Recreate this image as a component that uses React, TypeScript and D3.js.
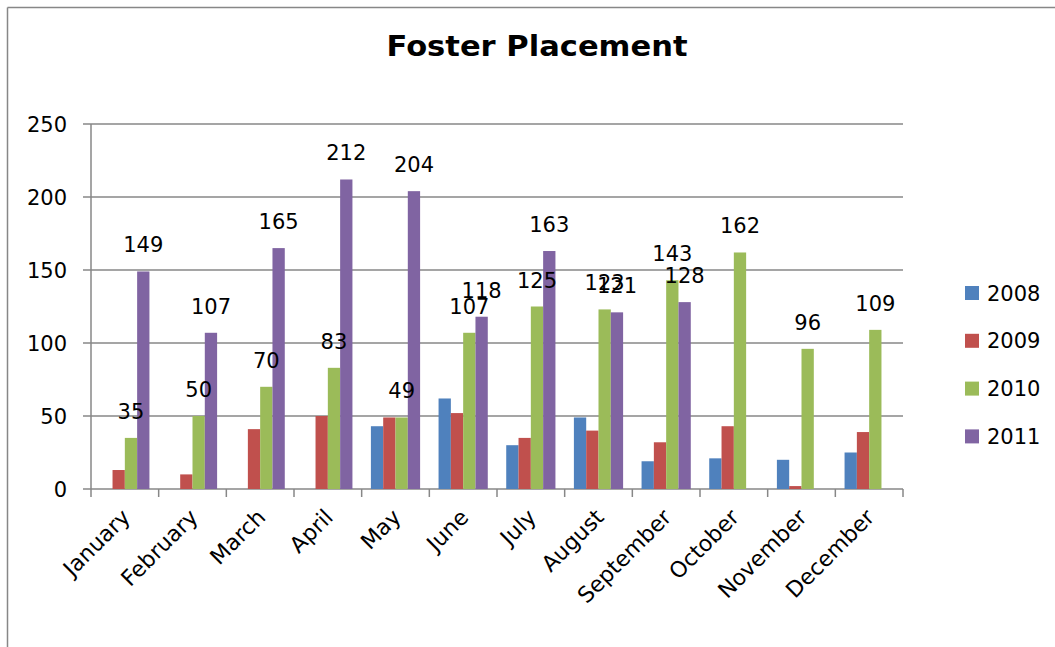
import React, { useRef, useEffect } from 'react';
import * as d3 from 'd3';

const months = [
  'January', 'February', 'March', 'April', 'May', 'June',
  'July', 'August', 'September', 'October', 'November', 'December',
];
const seriesNames = ['2008', '2009', '2010', '2011'];
const values2008 = [null, null, null, null, 43, 62, 30, 49, 19, 21, 20, 25];
const values2009 = [13, 10, 41, 50, 49, 52, 35, 40, 32, 43, 2, 39];
const values2010 = [35, 50, 70, 83, 49, 107, 125, 123, 143, 162, 96, 109];
const values2011 = [149, 107, 165, 212, 204, 118, 163, 121, 128, null, null, null];
const yTicks = [0, 50, 100, 150, 200, 250];
const labelledSeries = ['2010', '2011'];

const colors = ['#4F81BD', '#C0504D', '#9BBB59', '#8064A2'];

const App: React.FC = () => {
  const svgRef = useRef<SVGSVGElement>(null);

  useEffect(() => {
    const svg = d3.select(svgRef.current);
    const width = 1055;
    const height = 647;
    const left = 91;
    const right = 903;
    const top = 124;
    const bottom = 489;
    const font = '"DejaVu Sans", sans-serif';
    const grid = '#878787';

    svg.selectAll('*').remove(); // Clear previous elements
    svg.attr('width', width).attr('height', height);

    const allSeries = [values2008, values2009, values2010, values2011];

    const x0 = d3.scaleBand<string>().domain(months).range([left, right]);
    const x1 = d3
      .scaleBand<string>()
      .domain(seriesNames)
      .range([0, x0.bandwidth()])
      .paddingInner(0)
      .paddingOuter(0.75);
    const y = d3.scaleLinear().domain([0, 250]).range([bottom, top]);

    // chart border (only top and left are in view)
    svg.append('line').attr('x1', 7.5).attr('x2', width).attr('y1', 7.5).attr('y2', 7.5)
      .attr('stroke', grid).attr('stroke-width', 1.5);
    svg.append('line').attr('x1', 7.5).attr('x2', 7.5).attr('y1', 7.5).attr('y2', height)
      .attr('stroke', grid).attr('stroke-width', 1.5);

    svg.append('text')
      .attr('x', 537)
      .attr('y', 56)
      .attr('text-anchor', 'middle')
      .attr('font-family', font)
      .attr('font-weight', 'bold')
      .attr('font-size', 28)
      .attr('textLength', 301)
      .attr('lengthAdjust', 'spacingAndGlyphs')
      .text('Foster Placement');

    // gridlines + y ticks
    const yAxis = svg.append('g');
    yTicks.forEach((t) => {
      yAxis.append('line')
        .attr('x1', left - 8).attr('x2', right)
        .attr('y1', y(t)).attr('y2', y(t))
        .attr('stroke', grid).attr('stroke-width', 1.5);
      yAxis.append('text')
        .attr('x', 67).attr('y', y(t))
        .attr('dy', '0.36em')
        .attr('text-anchor', 'end')
        .attr('font-family', font)
        .attr('font-size', 21)
        .text(t);
    });
    yAxis.append('line')
      .attr('x1', left).attr('x2', left)
      .attr('y1', top).attr('y2', bottom)
      .attr('stroke', grid).attr('stroke-width', 1.5);

    // x tick marks at category boundaries
    const bounds = months.map((m) => x0(m) as number).concat([right]);
    svg.append('g')
      .selectAll('line')
      .data(bounds)
      .enter()
      .append('line')
      .attr('x1', (d) => d).attr('x2', (d) => d)
      .attr('y1', bottom).attr('y2', bottom + 8)
      .attr('stroke', grid).attr('stroke-width', 1.5);

    // bars
    const chartGroup = svg.append('g');
    allSeries.forEach((vals, si) => {
      const name = seriesNames[si];
      const g = chartGroup.append('g');
      g.selectAll('rect')
        .data(vals.map((v, i) => ({ v, m: months[i] })).filter((d) => d.v !== null))
        .enter()
        .append('rect')
        .attr('x', (d) => (x0(d.m) as number) + (x1(name) as number))
        .attr('y', (d) => y(d.v as number))
        .attr('width', x1.bandwidth())
        .attr('height', (d) => bottom - y(d.v as number))
        .attr('fill', colors[si]);
    });

    // data labels
    allSeries.forEach((vals, si) => {
      const name = seriesNames[si];
      if (!labelledSeries.includes(name)) return;
      chartGroup.append('g')
        .selectAll('text')
        .data(vals.map((v, i) => ({ v, m: months[i] })).filter((d) => d.v !== null))
        .enter()
        .append('text')
        .attr('x', (d) => (x0(d.m) as number) + (x1(name) as number) + x1.bandwidth() / 2)
        .attr('y', (d) => y(d.v as number) - 19)
        .attr('text-anchor', 'middle')
        .attr('font-family', font)
        .attr('font-size', 21)
        .text((d) => String(d.v));
    });

    // month labels
    svg.append('g')
      .selectAll('text')
      .data(months)
      .enter()
      .append('text')
      .attr('transform', (m) =>
        `translate(${(x0(m) as number) + x0.bandwidth() / 2 + 1}, ${bottom + 24}) rotate(-45)`)
      .attr('text-anchor', 'end')
      .attr('dy', '0.36em')
      .attr('font-family', font)
      .attr('font-size', 22)
      .text((m) => m);

    // legend
    const legend = svg.append('g');
    seriesNames.forEach((name, i) => {
      const cy = 293 + i * 47.8;
      legend.append('rect')
        .attr('x', 965).attr('y', cy - 7)
        .attr('width', 14).attr('height', 14)
        .attr('fill', colors[i]);
      legend.append('text')
        .attr('x', 987).attr('y', cy)
        .attr('dy', '0.36em')
        .attr('font-family', font)
        .attr('font-size', 21)
        .text(name);
    });
  }, []);

  return <svg ref={svgRef} style={{ position: 'absolute', left: 0, top: 0 }} />;
};

export default App;
